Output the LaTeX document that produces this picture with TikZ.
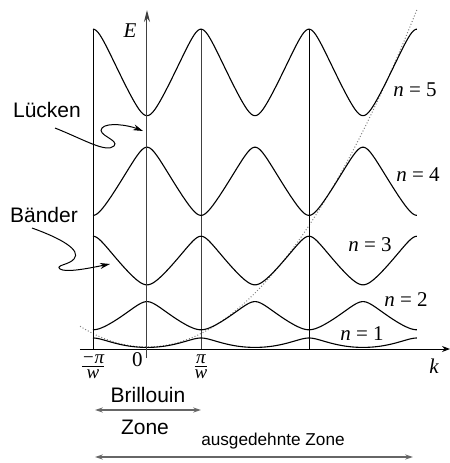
\documentclass[tikz,border=0pt]{standalone}
\usepackage{fontspec}
\usepackage{amsmath}
\setmainfont{Liberation Serif}
\newfontfamily\hvfont{Liberation Sans}
\usetikzlibrary{arrows.meta}
\newcommand{\fracpart}[1]{\text{\fontsize{9.5}{10}\selectfont\itshape #1}}
\begin{document}
\begin{tikzpicture}[x=0.5pt,y=-0.5pt,
  declare function={
    hyp(\dd,\vv)=(\dd)-sqrt((\dd)*(\dd)+(\vv)*(\vv));
    qq(\x)=abs(\x-2*round(\x/2));
    band(\kk,\nn,\lo,\hi)=347-10*(1.35*(\kk)*(\kk)+hyp(2.7*(\nn)*((\nn)-(\kk)),\hi)-hyp(2.7*((\nn)-1)*((\kk)-(\nn)+1),\lo));
  },
  bandline/.style={line width=0.55pt},
  vline/.style={line width=0.45pt},
  sanslab/.style={font=\hvfont\fontsize{10.5}{12}\selectfont, inner sep=0pt},
  smallsans/.style={font=\hvfont\fontsize{8.6}{10}\selectfont, inner sep=0pt},
  seriflab/.style={font=\fontsize{10.5}{12}\selectfont, inner sep=0pt},
  fraclab/.style={inner sep=0pt},
  pointer/.style={line width=0.5pt, -{Stealth[length=5pt,width=3pt]}},
  zonearrow/.style={gray!80!black, line width=0.6pt, {Stealth[length=4pt,width=2.6pt,inset=1.5pt]}-{Stealth[length=4pt,width=2.6pt,inset=1.5pt]}},
]
\useasboundingbox (0,0) rectangle (450,463);

% coordinates
\coordinate (axL) at (80,349);
\coordinate (axR) at (450,349);
\coordinate (eB) at (147,358);
\coordinate (eT) at (147,10);
\coordinate (l1t) at (93,29);   \coordinate (l1b) at (93,349);
\coordinate (l2t) at (201,29);  \coordinate (l2b) at (201,349);
\coordinate (l3t) at (309,29);  \coordinate (l3b) at (309,349);

% dotted free-electron parabola
\draw[densely dotted, gray, line width=0.5pt] plot[domain=-1.24:5, samples=120] ({147+54*\x},{347-13.5*\x*\x});

% vertical lines
\draw[vline] (l1t) -- (l1b);
\draw[vline, black!75] (l2t) -- (l2b);
\draw[vline] (l3t) -- (l3b);

% bands
\draw[bandline] plot[domain=-1:5, samples=241] ({147+54*\x},{band(qq(\x),1,0,0.45)});
\draw[bandline] plot[domain=-1:5, samples=241] ({147+54*\x},{band(2-qq(\x),2,0.45,0.9)});
\draw[bandline] plot[domain=-1:5, samples=241] ({147+54*\x},{band(2+qq(\x),3,0.9,1.15)});
\draw[bandline] plot[domain=-1:5, samples=241] ({147+54*\x},{band(4-qq(\x),4,1.15,1.7)});
\draw[bandline] plot[domain=-1:5, samples=241] ({147+54*\x},{band(4+qq(\x),5,1.7,2.1)});

% axes
\draw[line width=0.5pt, -{Stealth[length=4pt,width=3pt]}] (axL) -- (axR);
\draw[line width=0.5pt, black!75, -{Stealth[length=6pt,width=3pt]}] (eB) -- (eT);

% axis labels
\node[seriflab] (elab) at (130,31) {\itshape E};
\node[seriflab] (klab) at (434,366) {\itshape k};
\node[seriflab] (zero) at (137.5,359.5) {0};
\node[fraclab] (mpi) at (93,367) {$\frac{\fracpart{−π}}{\fracpart{w}}$};
\node[fraclab] (ppi) at (201,367) {$\frac{\fracpart{π}}{\fracpart{w}}$};

% band labels
\node[seriflab] (n5) at (415,90) {\itshape n\upshape\ = 5};
\node[seriflab] (n4) at (418,175) {\itshape n\upshape\ = 4};
\node[seriflab] (n3) at (370,245) {\itshape n\upshape\ = 3};
\node[seriflab] (n2) at (406,300) {\itshape n\upshape\ = 2};
\node[seriflab] (n1) at (362,334) {\itshape n\upshape\ = 1};

% Luecken / Baender
\node[sanslab] (lue) at (47,110) {Lücken};
\node[sanslab] (bae) at (44,215) {Bänder};
\coordinate (lueS) at (55,128);
\coordinate (lueT) at (143,131);
\coordinate (baeS) at (32,228);
\coordinate (baeT) at (110,264);
\draw[pointer] (lueS) .. controls (85,140) and (106,153) .. (114,146)
  .. controls (120,140) and (96,135) .. (102,128)
  .. controls (107,122) and (128,125) .. (lueT);
\draw[pointer] (baeS) .. controls (60,238) and (82,250) .. (74,259)
  .. controls (69,265) and (55,265) .. (60,269)
  .. controls (66,273) and (90,268) .. (baeT);

% zones
\node[sanslab] (bril) at (148,395) {Brillouin};
\node[sanslab] (zone) at (145,427) {Zone};
\node[smallsans] (ausg) at (273,441) {ausgedehnte Zone};
\coordinate (bzL) at (95,410);
\coordinate (bzR) at (201,410);
\coordinate (ezL) at (95,457);
\coordinate (ezR) at (413,457);
\draw[zonearrow] (bzL) -- (bzR);
\draw[zonearrow] (ezL) -- (ezR);
\end{tikzpicture}
\end{document}
